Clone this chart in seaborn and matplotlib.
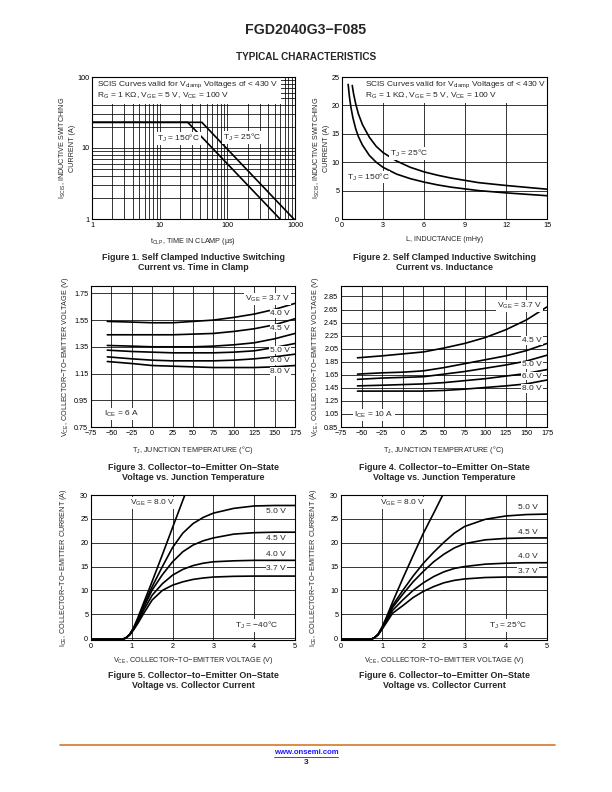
import seaborn as sns
import matplotlib.pyplot as plt
from matplotlib.patches import Rectangle
from matplotlib.lines import Line2D
from matplotlib.ticker import FixedLocator, FixedFormatter, LogLocator, NullFormatter

# ---- Figure 1: SCIS current vs time in clamp (log-log)
t_150 = [1, 26, 600]
i_150 = [23, 23, 1.0]
t_25 = [1, 42, 1000]
i_25 = [23, 23, 0.96]

# ---- Figure 2: SCIS current vs inductance
L_25 = [0.75, 0.85, 1, 1.2, 1.5, 2, 2.5, 3, 4, 5, 6, 7, 8, 10, 12, 15]
I_25 = [23.5, 22.0, 20.3, 18.5, 16.6, 14.4, 12.8, 11.7, 10.2, 9.1, 8.3, 7.7, 7.2, 6.4, 5.9, 5.25]
L_150 = [0.45, 0.55, 0.65, 0.8, 1, 1.2, 1.5, 2, 2.5, 3, 4, 5, 6, 7, 8, 10, 12, 15]
I_150 = [23.7, 21.4, 19.7, 17.8, 15.9, 14.5, 13.0, 11.2, 10.0, 9.1, 7.9, 7.1, 6.5, 6.0, 5.6, 5.0, 4.6, 4.1]

# ---- Figure 3 / 4: VCE vs junction temperature
tj = [-55, -25, 0, 25, 50, 75, 100, 125, 150, 175]
vce_6a = {
    '3.7': [1.54, 1.535, 1.53, 1.53, 1.54, 1.55, 1.57, 1.595, 1.63, 1.675],
    '4.0': [1.44, 1.44, 1.44, 1.44, 1.445, 1.45, 1.465, 1.485, 1.515, 1.56],
    '4.5': [1.36, 1.355, 1.35, 1.35, 1.35, 1.355, 1.365, 1.38, 1.41, 1.45],
    '5.0': [1.325, 1.315, 1.31, 1.305, 1.305, 1.305, 1.31, 1.32, 1.345, 1.375],
    '6.0': [1.275, 1.26, 1.25, 1.245, 1.245, 1.245, 1.25, 1.26, 1.275, 1.295],
    '8.0': [1.24, 1.225, 1.21, 1.205, 1.2, 1.195, 1.195, 1.195, 1.2, 1.21],
}
vce_10a = {
    '3.7': [1.91, 1.94, 1.97, 2.00, 2.06, 2.13, 2.22, 2.34, 2.49, 2.69],
    '4.5': [1.66, 1.68, 1.69, 1.71, 1.76, 1.82, 1.88, 1.94, 2.02, 2.13],
    '5.0': [1.58, 1.60, 1.61, 1.62, 1.66, 1.70, 1.75, 1.80, 1.86, 1.95],
    '6.0': [1.48, 1.49, 1.50, 1.51, 1.53, 1.56, 1.59, 1.63, 1.67, 1.73],
    '8.0': [1.40, 1.40, 1.40, 1.40, 1.41, 1.43, 1.455, 1.48, 1.51, 1.57],
}

# ---- Figure 5 / 6: ICE vs VCE
vce = [0, 0.5, 0.75, 0.85, 0.95, 1.05, 1.15, 1.3, 1.5, 1.75, 2.0, 2.25, 2.5, 2.75, 3.0, 3.5, 4.0, 4.5, 5.0]
ice_m40 = {
    '5.0': [-0.3, -0.3, -0.3, 0.0, 0.8, 2.2, 4.0, 7.1, 10.8, 15.0, 19.0, 22.0, 24.0, 25.3, 26.2, 27.2, 27.7, 27.8, 27.8],
    '4.5': [-0.3, -0.3, -0.3, 0.0, 0.7, 2.0, 3.7, 6.6, 10.1, 13.3, 16.0, 18.1, 19.5, 20.4, 21.0, 21.8, 22.1, 22.2, 22.2],
    '4.0': [-0.3, -0.3, -0.3, 0.0, 0.7, 1.9, 3.4, 6.0, 9.0, 11.4, 13.2, 14.4, 15.2, 15.7, 16.0, 16.2, 16.3, 16.3, 16.3],
    '3.7': [-0.3, -0.3, -0.3, 0.0, 0.7, 1.8, 3.1, 5.3, 8.0, 10.0, 11.1, 11.8, 12.3, 12.6, 12.8, 12.95, 13.0, 13.0, 13.0],
}
vce8_m40 = [0, 0.5, 0.75, 0.85, 0.95, 1.05, 1.15, 1.3, 1.5, 1.75, 2.0, 2.3]
ice8_m40 = [-0.3, -0.3, -0.3, 0.0, 0.8, 2.3, 4.3, 7.6, 11.9, 17.5, 23.2, 30.0]

vce_25 = [0, 0.5, 0.7, 0.8, 0.9, 1.0, 1.1, 1.25, 1.5, 1.75, 2.0, 2.25, 2.5, 2.75, 3.0, 3.5, 4.0, 4.5, 5.0]
ice_25 = {
    '5.0': [-0.3, -0.3, -0.3, 0.0, 0.8, 2.2, 4.0, 6.8, 10.0, 13.0, 15.7, 18.0, 20.1, 22.0, 23.4, 24.9, 25.6, 25.9, 26.0],
    '4.5': [-0.3, -0.3, -0.3, 0.0, 0.7, 2.1, 3.8, 6.4, 9.2, 11.8, 14.0, 16.0, 17.6, 18.9, 19.8, 20.6, 20.9, 21.0, 21.0],
    '4.0': [-0.3, -0.3, -0.3, 0.0, 0.7, 2.0, 3.5, 5.8, 8.0, 10.0, 11.6, 12.9, 13.9, 14.6, 15.0, 15.5, 15.7, 15.8, 15.8],
    '3.7': [-0.3, -0.3, -0.3, 0.0, 0.7, 1.9, 3.2, 5.2, 6.8, 8.5, 9.8, 10.8, 11.6, 12.1, 12.4, 12.7, 12.8, 12.8, 12.8],
}
vce8_25 = [0, 0.5, 0.7, 0.8, 0.9, 1.0, 1.1, 1.25, 1.5, 1.75, 2.0, 2.25, 2.47]
ice8_25 = [-0.3, -0.3, -0.3, 0.0, 0.8, 2.4, 4.3, 7.5, 12.5, 17.3, 22.0, 26.2, 30.0]

W, H = 612, 792
FS = 5.2      # ticks / axis labels
FL = 6.0      # in-plot labels
LW = 1.2
GRID = dict(color='black', linewidth=0.55)
WHITE = dict(facecolor='white', edgecolor='none', pad=0.6)

sns.set_style('white')
plt.rcParams['font.family'] = ['Liberation Sans', 'DejaVu Sans']
plt.rcParams['axes.linewidth'] = 0.8


def axes_px(fig, left, top, right, bottom):
    return fig.add_axes([left / W, 1 - bottom / H, (right - left) / W, (bottom - top) / H])


def style(ax):
    ax.tick_params(which='both', length=0, pad=2, labelsize=FS, colors='black')
    for s in ax.spines.values():
        s.set_color('black')
    ax.set_axisbelow(True)


def curve(ax, x, y):
    sns.lineplot(x=x, y=y, ax=ax, color='black', linewidth=LW, estimator=None, sort=False)


fig = plt.figure(figsize=(W / 100, H / 100), dpi=100)

fig.text(0.5, 1 - 30 / H, 'FGD2040G3\u2212F085', ha='center', va='center', fontsize=10.2, fontweight='bold')
fig.text(0.5, 1 - 57 / H, 'TYPICAL CHARACTERISTICS', ha='center', va='center', fontsize=7.2, fontweight='bold')

# ---------------- Figure 1
ax1 = axes_px(fig, 92, 77, 295, 219)
ax1.set_xscale('log')
ax1.set_yscale('log')
curve(ax1, t_150, i_150)
curve(ax1, t_25, i_25)
ax1.set_xlim(1, 1000)
ax1.set_ylim(1, 100)
ax1.xaxis.set_major_locator(FixedLocator([1, 10, 100, 1000]))
ax1.xaxis.set_major_formatter(FixedFormatter(['1', '10', '100', '1000']))
ax1.yaxis.set_major_locator(FixedLocator([1, 10, 100]))
ax1.yaxis.set_major_formatter(FixedFormatter(['1', '10', '100']))
for a in (ax1.xaxis, ax1.yaxis):
    a.set_minor_locator(LogLocator(base=10, subs=range(2, 10)))
    a.set_minor_formatter(NullFormatter())
ax1.grid(which='both', **GRID)
style(ax1)
ax1.add_patch(Rectangle((0, 0.81), 0.93, 0.19, transform=ax1.transAxes,
                        facecolor='white', edgecolor='none', zorder=2))
ax1.text(0.025, 0.945, 'SCIS Curves valid for $\\mathregular{V_{clamp}}$ Voltages of < 430 V',
         transform=ax1.transAxes, fontsize=FL, va='center', zorder=3)
ax1.text(0.025, 0.87, '$\\mathregular{R_G}$ = 1 K\u03a9, $\\mathregular{V_{GE}}$ = 5 V, '
         '$\\mathregular{V_{CE}}$ = 100 V', transform=ax1.transAxes, fontsize=FL, va='center', zorder=3)
ax1.text(19, 13.5, '$\\mathregular{T_J}$ = 150\u00b0C', fontsize=FL, ha='center', va='center', bbox=WHITE, zorder=3)
ax1.text(165, 14, '$\\mathregular{T_J}$ = 25\u00b0C', fontsize=FL, ha='center', va='center', bbox=WHITE, zorder=3)
ax1.set_xlabel('$\\mathregular{t_{CLP}}$, TIME IN CLAMP (\u00b5s)', fontsize=FS, labelpad=5)
ax1.set_ylabel('$\\mathregular{I_{SCIS}}$, INDUCTIVE SWITCHING\nCURRENT (A)', fontsize=FS, labelpad=1)

# ---------------- Figure 2
ax2 = axes_px(fig, 342, 77, 547, 219)
curve(ax2, L_25, I_25)
curve(ax2, L_150, I_150)
ax2.set_xlim(0, 15)
ax2.set_ylim(0, 25)
ax2.set_xticks([0, 3, 6, 9, 12, 15])
ax2.set_yticks([0, 5, 10, 15, 20, 25])
ax2.grid(**GRID)
style(ax2)
ax2.add_patch(Rectangle((0.1, 0.82), 0.9, 0.18, transform=ax2.transAxes,
                        facecolor='white', edgecolor='none', zorder=2))
ax2.text(0.11, 0.945, 'SCIS Curves valid for $\\mathregular{V_{clamp}}$ Voltages of < 430 V',
         transform=ax2.transAxes, fontsize=FL, va='center', zorder=3)
ax2.text(0.11, 0.87, '$\\mathregular{R_G}$ = 1 K\u03a9, $\\mathregular{V_{GE}}$ = 5 V, '
         '$\\mathregular{V_{CE}}$ = 100 V', transform=ax2.transAxes, fontsize=FL, va='center', zorder=3)
ax2.text(3.5, 11.6, '$\\mathregular{T_J}$ = 25\u00b0C', fontsize=FL, va='center', bbox=WHITE, zorder=3)
ax2.text(0.35, 7.4, '$\\mathregular{T_J}$ = 150\u00b0C', fontsize=FL, va='center', bbox=WHITE, zorder=3)
ax2.set_xlabel('L, INDUCTANCE (mHy)', fontsize=FS, labelpad=5)
ax2.set_ylabel('$\\mathregular{I_{SCIS}}$, INDUCTIVE SWITCHING\nCURRENT (A)', fontsize=FS, labelpad=1)

# ---------------- Figure 3
ax3 = axes_px(fig, 91, 286, 295, 427)
for k, v in vce_6a.items():
    curve(ax3, tj, v)
ax3.set_xlim(-75, 175)
ax3.set_ylim(0.75, 1.805)
ax3.set_xticks(range(-75, 176, 25))
ax3.set_yticks([0.75, 0.95, 1.15, 1.35, 1.55, 1.75])
ax3.set_yticklabels(['0.75', '0.95', '1.15', '1.35', '1.55', '1.75'])
ax3.grid(**GRID)
style(ax3)
lab3 = [('$\\mathregular{V_{GE}}$ = 3.7 V', 1.705), ('4.0 V', 1.60), ('4.5 V', 1.49),
        ('5.0 V', 1.325), ('6.0 V', 1.245), ('8.0 V', 1.165)]
for s, y in lab3:
    ax3.text(169, y, s, fontsize=FL, ha='right', va='center', bbox=WHITE, zorder=3)
ax3.text(-59, 0.845, '$\\mathregular{I_{CE}}$ = 6 A', fontsize=FL, va='center', bbox=WHITE, zorder=3)
ax3.set_xlabel('$\\mathregular{T_J}$, JUNCTION TEMPERATURE (\u00b0C)', fontsize=FS, labelpad=5)
ax3.set_ylabel('$\\mathregular{V_{CE}}$, COLLECTOR\u2212TO\u2212EMITTER VOLTAGE (V)', fontsize=FS, labelpad=2)

# ---------------- Figure 4
ax4 = axes_px(fig, 341, 286, 547, 427)
for k, v in vce_10a.items():
    curve(ax4, tj, v)
ax4.set_xlim(-75, 175)
ax4.set_ylim(0.85, 3.01)
ax4.set_xticks(range(-75, 176, 25))
yt4 = [0.85, 1.05, 1.25, 1.45, 1.65, 1.85, 2.05, 2.25, 2.45, 2.65, 2.85]
ax4.set_yticks(yt4)
ax4.set_yticklabels([f'{v:.2f}' for v in yt4])
ax4.grid(**GRID)
style(ax4)
lab4 = [('$\\mathregular{V_{GE}}$ = 3.7 V', 2.71), ('4.5 V', 2.18), ('5.0 V', 1.80),
        ('6.0 V', 1.63), ('8.0 V', 1.44)]
for s, y in lab4:
    ax4.text(169, y, s, fontsize=FL, ha='right', va='center', bbox=WHITE, zorder=3)
ax4.text(-59, 1.03, '$\\mathregular{I_{CE}}$ = 10 A', fontsize=FL, va='center', bbox=WHITE, zorder=3)
ax4.set_xlabel('$\\mathregular{T_J}$, JUNCTION TEMPERATURE (\u00b0C)', fontsize=FS, labelpad=5)
ax4.set_ylabel('$\\mathregular{V_{CE}}$, COLLECTOR\u2212TO\u2212EMITTER VOLTAGE (V)', fontsize=FS, labelpad=2)


# ---------------- Figure 5 / 6
def ice_panel(ax, x, curves, x8, y8, labels, tj_text):
    for k, v in curves.items():
        curve(ax, x, v)
    curve(ax, x8, y8)
    ax.set_xlim(0, 5)
    ax.set_ylim(-0.4, 30)
    ax.set_xticks(range(0, 6))
    ax.set_yticks(range(0, 31, 5))
    ax.grid(**GRID)
    style(ax)
    ax.text(0.95, 28.3, '$\\mathregular{V_{GE}}$ = 8.0 V', fontsize=FL, va='center', bbox=WHITE, zorder=3)
    for s, y in labels:
        ax.text(4.78, y, s, fontsize=FL, ha='right', va='center', bbox=WHITE, zorder=3)
    ax.text(4.05, 2.6, tj_text, fontsize=FL, ha='center', va='center', bbox=WHITE, zorder=3)
    ax.set_xlabel('$\\mathregular{V_{CE}}$, COLLECTOR\u2212TO\u2212EMITTER VOLTAGE (V)', fontsize=FS, labelpad=4)
    ax.set_ylabel('$\\mathregular{I_{CE}}$, COLLECTOR\u2212TO\u2212EMITTER CURRENT (A)', fontsize=FS, labelpad=8)


ax5 = axes_px(fig, 91, 495, 295, 640)
ice_panel(ax5, vce, ice_m40, vce8_m40, ice8_m40,
          [('5.0 V', 26.6), ('4.5 V', 20.9), ('4.0 V', 17.6), ('3.7 V', 14.5)],
          '$\\mathregular{T_J}$ = \u221240\u00b0C')
ax6 = axes_px(fig, 341, 495, 547, 640)
ice_panel(ax6, vce_25, ice_25, vce8_25, ice8_25,
          [('5.0 V', 27.3), ('4.5 V', 22.2), ('4.0 V', 17.2), ('3.7 V', 14.0)],
          '$\\mathregular{T_J}$ = 25\u00b0C')

# ---------------- captions
caps = [
    (193.5, 257, 'Figure 1. Self Clamped Inductive Switching', 'Current vs. Time in Clamp'),
    (444.5, 257, 'Figure 2. Self Clamped Inductive Switching', 'Current vs. Inductance'),
    (193.5, 467, 'Figure 3. Collector\u2212to\u2212Emitter On\u2212State', 'Voltage vs. Junction Temperature'),
    (444.5, 467, 'Figure 4. Collector\u2212to\u2212Emitter On\u2212State', 'Voltage vs. Junction Temperature'),
    (193.5, 675, 'Figure 5. Collector\u2212to\u2212Emitter On\u2212State', 'Voltage vs. Collector Current'),
    (444.5, 675, 'Figure 6. Collector\u2212to\u2212Emitter On\u2212State', 'Voltage vs. Collector Current'),
]
for x, y, l1, l2 in caps:
    fig.text(x / W, 1 - y / H, l1, ha='center', va='center', fontsize=6.4, fontweight='bold')
    fig.text(x / W, 1 - (y + 11) / H, l2, ha='center', va='center', fontsize=6.4, fontweight='bold')

# ---------------- footer
fig.add_artist(Line2D([60 / W, 555 / W], [1 - 745 / H] * 2, color='#D9843A', linewidth=1.3))
fig.text(0.5, 1 - 752.5 / H, 'www.onsemi.com', ha='center', va='center', fontsize=5.6,
         fontweight='bold', color='#1a1aff')
fig.add_artist(Line2D([274 / W, 338 / W], [1 - 757 / H] * 2, color='#1a1aff', linewidth=0.6))
fig.text(0.5, 1 - 762.5 / H, '3', ha='center', va='center', fontsize=6, fontweight='bold')

fig.savefig('out.png', dpi=100)
